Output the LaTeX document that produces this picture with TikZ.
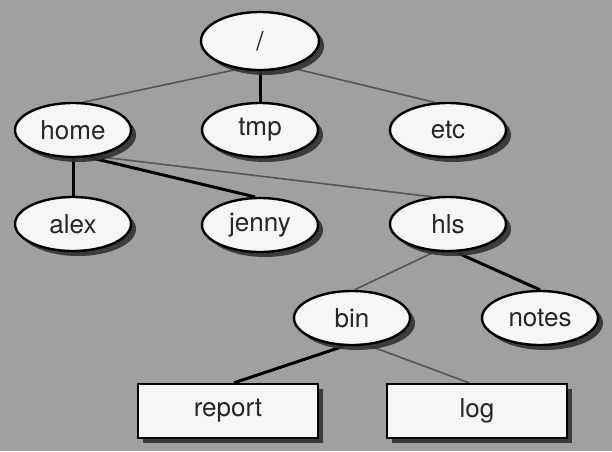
\documentclass[tikz,border=0pt]{standalone}
\usepackage{fontspec}
\setmainfont{TeX Gyre Heros}
\usetikzlibrary{shadows,shapes.geometric}
\pgfdeclarelayer{bg}
\pgfdeclarelayer{edges}
\pgfsetlayers{bg,edges,main}
\definecolor{paper}{RGB}{160,160,160}
\definecolor{boxfill}{RGB}{246,246,246}
\definecolor{thinline}{RGB}{85,85,85}
\definecolor{shadowc}{RGB}{50,50,50}
\begin{document}
\begin{tikzpicture}[x=1pt,y=-1pt,
  every node/.style={font=\fontsize{26}{30}\selectfont, text=black!85},
  oval/.style={ellipse, draw=black, line width=2.4pt, fill=boxfill,
    minimum width=116pt, minimum height=54pt, inner sep=0pt,
    drop shadow={shadow xshift=5pt, shadow yshift=-5pt, fill=shadowc, opacity=0.9}},
  filebox/.style={rectangle, draw=black, line width=2.4pt, fill=boxfill,
    minimum width=180pt, minimum height=54pt, inner sep=0pt,
    drop shadow={shadow xshift=5pt, shadow yshift=-5pt, fill=shadowc, opacity=0.9}},
  strong/.style={draw=black, line width=3pt},
  faint/.style={draw=thinline, line width=1.6pt}]
\begin{pgfonlayer}{bg}
\fill[paper] (0,0) rectangle (612,451);
\end{pgfonlayer}
\useasboundingbox (0,0) rectangle (612,451);

\node[oval, minimum height=58pt, minimum width=118pt] (root) at (260,41) {/};
\node[oval] (home) at (73,130) {home};
\node[oval] (tmp) at (260,130) {tmp};
\node[oval] (etc) at (448,130) {etc};
\node[oval] (alex) at (73,224) {alex};
\node[oval] (jenny) at (260,225) {jenny};
\node[oval] (hls) at (448,224) {hls};
\node[oval] (bin) at (352,318) {bin};
\node[oval] (notes) at (540,318) {notes};
\node[filebox] (report) at (228,411) {report};
\node[filebox] (log) at (477,411) {log};

\begin{pgfonlayer}{edges}
\draw[faint] (root.232) -- (home.70);
\draw[strong] (root.south) -- (tmp.north);
\draw[faint] (root.318) -- (etc.115);
\draw[strong] (home.south) -- (alex.north);
\draw[strong] (home.300) -- (jenny.100);
\draw[faint] (home.310) -- (hls.120);
\draw[faint] (hls.245) -- (bin.85);
\draw[strong] (hls.285) -- (notes.north);
\draw[strong] (bin.255) -- ([xshift=6pt]report.north);
\draw[faint] (bin.300) -- ([xshift=-8pt]log.north);
\end{pgfonlayer}
\end{tikzpicture}
\end{document}
